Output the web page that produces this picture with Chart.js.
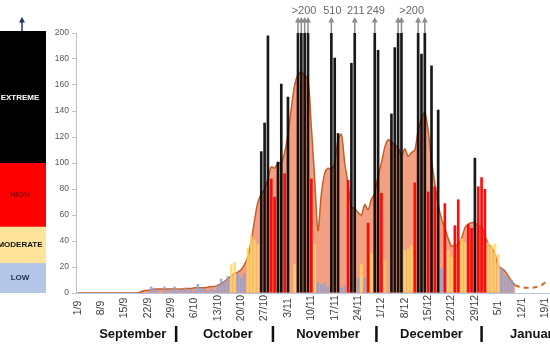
<!DOCTYPE html>
<html>
<head>
<meta charset="utf-8">
<title>Daily levels Sep - Jan</title>
<script src="https://cdn.jsdelivr.net/npm/chart.js@4.4.0/dist/chart.umd.min.js"></script>
<style>
  html, body { margin: 0; padding: 0; background: #ffffff; overflow: hidden; }
  canvas { display: block; }
</style>
</head>
<body>
<canvas id="chartNiveles" width="550" height="350"></canvas>
<script>
// ===== DATA =====

// daily values, one per day from 1/9 (rows = weeks)
const dailyValues = [
    0, 0, 0, 0, 0, 0, 0,
    0, 0, 0, 0, 0, 0, 0,
    0, 0, 0, 0, 0, 0, 0,
    0, 5, 4, 2, 0, 5, 2,
    3, 5, 3, 2, 4, 2, 3,
    2, 7, 4, 3, 2, 3, 2,
    6, 11, 9, 13, 22, 24, 15,
    12, 15, 35, 44, 41, 38, 109,
    131, 198, 88, 74, 101, 161, 92,
    151, 0, 22, 205, 205, 205, 205,   // 205 = reported only as ">200"
    88, 38, 8, 7, 8, 5, 510,
    181, 123, 4, 6, 87, 177, 211,
    12, 22, 12, 54, 31, 249, 187,
    77, 25, 0, 138, 189, 205, 205,
    33, 34, 37, 85, 205, 184, 205,
    78, 175, 82, 141, 19, 69, 33,
    28, 52, 72, 42, 39, 53, 50,
    104, 82, 89, 80, 39, 37, 38,
    30, 19, 14, 12, 10, 0, 0,
    0, 0, 0, 0, 0, 0, 0,
    0, 0
];

// smoothed trend (orange area)
const trendValues = [
    0, 0, 0, 0, 0, 0, 0,
    0, 0, 0, 0, 0, 0, 0,
    0, 0, 0, 0, 0, 1, 2,
    2, 2.5, 3, 3, 3, 3, 3,
    3, 3, 3, 3, 3.5, 3.5, 3.5,
    4, 4, 4, 4, 4.5, 5, 5,
    6, 7, 9, 11, 13, 15, 16,
    18, 22, 28, 40, 56, 70, 76,
    80, 88, 97, 96, 100, 100, 108,
    122, 142, 160, 168, 170, 167, 165,
    128, 88, 48, 76, 92, 96, 95,
    100, 118, 122, 100, 84, 66, 65,
    62, 60, 68, 64, 72, 77, 90,
    100, 112, 118, 116, 114, 112, 105,
    111, 105, 108, 110, 125, 134, 139,
    125, 102, 84, 68, 57, 50, 42,
    36, 37, 37, 42, 50, 53, 54,
    54, 52, 51, 44, 38, 35, 30,
    21, 19, 17, 13, 9, 6, null,
    null, null, null, null, null, null, null,
    null, null
];

// forecast (dashed), starting on 10/1
const forecastStart = '10/1';
const forecastValues = [6, 5, 4.5, 4, 4, 4, 4.5, 5, 6, 8, 10];

const tickLabels = ['1/9', '8/9', '15/9', '22/9', '29/9', '6/10', '13/10', '20/10', '27/10',
    '3/11', '10/11', '17/11', '24/11', '1/12', '8/12', '15/12', '22/12', '29/12', '5/1', '12/1', '19/1'];

const monthNames = ['September', 'October', 'November', 'December', 'January'];

// risk bands of the left scale
const bandNames = ['LOW', 'MODERATE', 'HIGH', 'EXTREME'];
const bandEdges = [0, 23, 51, 100, 200];

// bars above the top of the axis
const overflowText = ['>200', '510', '211', '249', '>200'];
const overflowDays = [
    ['6/11', '7/11', '8/11', '9/11'],
    ['16/11'],
    ['23/11'],
    ['29/11'],
    ['6/12', '7/12', '12/12', '14/12']
];

// ===== LABELS =====
const days = [];
for (let i = 0; i < dailyValues.length; i++) {
    const d = new Date(2012, 8, 1 + i);
    days.push(d.getDate() + '/' + (d.getMonth() + 1));
}

const bandColors = ['#b4c6e7', '#ffe49c', '#ff0000', '#000000'];
const bandTextColors = ['#1f2d50', '#111111', '#8b0000', '#ffffff'];

function colorFor(v) {
    if (v >= 100) return 'rgba(0,0,0,0.9)';
    if (v >= 50) return 'rgba(255,0,0,0.95)';
    if (v >= 20) return 'rgba(255,214,100,0.82)';
    return 'rgba(140,162,214,0.82)';
}

function flecha(ctx, x, yBase, yTip, color) {
    ctx.strokeStyle = color;
    ctx.fillStyle = color;
    ctx.lineWidth = 1.5;
    ctx.beginPath();
    ctx.moveTo(x, yBase);
    ctx.lineTo(x, yTip + 4);
    ctx.stroke();
    ctx.beginPath();
    ctx.moveTo(x, yTip);
    ctx.lineTo(x - 3, yTip + 5.5);
    ctx.lineTo(x + 3, yTip + 5.5);
    ctx.closePath();
    ctx.fill();
}

// legend bar, arrows, tick and month labels
const decorPlugin = {
    id: 'decor',
    afterDraw(chart) {
        const ctx = chart.ctx;
        const x = chart.scales.x;
        const y = chart.scales.y;
        const area = chart.chartArea;
        ctx.save();

        // left band scale
        ctx.font = 'bold 8px "Liberation Sans", Arial, sans-serif';
        ctx.textAlign = 'center';
        ctx.textBaseline = 'middle';
        for (let i = 0; i < bandNames.length; i++) {
            const y0 = y.getPixelForValue(bandEdges[i]);
            const y1 = y.getPixelForValue(bandEdges[i + 1]);
            ctx.fillStyle = bandColors[i];
            ctx.fillRect(0, y1 - 2, 46, y0 - y1 + 2);
            ctx.fillStyle = bandTextColors[i];
            ctx.fillText(bandNames[i], 20, (y0 + y1) / 2);
        }
        flecha(ctx, 22, area.top - 2, 17, '#1f3864');

        // arrows for bars above 200
        ctx.font = '11px "Liberation Sans", Arial, sans-serif';
        ctx.textBaseline = 'middle';
        overflowDays.forEach(function(grupo, g) {
            let suma = 0;
            grupo.forEach(function(dia) {
                const px = x.getPixelForValue(days.indexOf(dia));
                suma += px;
                flecha(ctx, px, area.top, area.top - 16, '#8c8c8c');
            });
            ctx.fillStyle = '#6a6a6a';
            ctx.fillText(overflowText[g], suma / grupo.length + 1, 11);
        });

        // weekly date labels, rotated and centred
        ctx.font = '10.5px "Liberation Sans", Arial, sans-serif';
        ctx.fillStyle = '#404040';
        tickLabels.forEach(function(lbl) {
            const px = x.getPixelForValue(days.indexOf(lbl));
            ctx.save();
            ctx.translate(px, 308);
            ctx.rotate(-Math.PI / 2);
            ctx.textAlign = 'center';
            ctx.fillText(lbl, 0, 0);
            ctx.restore();
        });

        // month names and separators
        const centros = [16.5, 45, 75, 106, 137];
        const separadores = [29.5, 58.5, 89.5, 121];
        ctx.font = 'bold 13px "Liberation Sans", Arial, sans-serif';
        ctx.fillStyle = '#111111';
        ctx.textAlign = 'center';
        monthNames.forEach(function(m, i) {
            ctx.fillText(m, x.getPixelForValue(centros[i]), 334);
        });
        ctx.strokeStyle = '#111111';
        ctx.lineWidth = 2.5;
        separadores.forEach(function(s) {
            const px = x.getPixelForValue(s);
            ctx.beginPath();
            ctx.moveTo(px, 326);
            ctx.lineTo(px, 342);
            ctx.stroke();
        });

        ctx.restore();
    }
};

Chart.defaults.font.family = '"Liberation Sans", Arial, sans-serif';

function inicializarGrafico() {
    const ctx = document.getElementById('chartNiveles');
    new Chart(ctx, {
        type: 'bar',
        data: {
            labels: days,
            datasets: [
                {
                    type: 'bar',
                    label: 'Daily',
                    data: dailyValues,
                    backgroundColor: dailyValues.map(colorFor),
                    barPercentage: 0.8,
                    categoryPercentage: 1,
                    order: 0
                },
                {
                    type: 'line',
                    label: 'Trend',
                    data: trendValues,
                    fill: 'origin',
                    backgroundColor: 'rgba(236,120,75,0.7)',
                    borderColor: '#c65f28',
                    borderWidth: 1.5,
                    pointRadius: 0,
                    tension: 0.3,
                    order: 1
                },
                {
                    type: 'line',
                    label: 'Forecast',
                    data: forecastValues.map(function(v, i) {
                        return { x: days[days.indexOf(forecastStart) + i], y: v };
                    }),
                    fill: false,
                    borderColor: '#d2692d',
                    borderDash: [5, 4],
                    borderWidth: 2,
                    pointRadius: 0,
                    tension: 0.4,
                    order: 1
                }
            ]
        },
        options: {
            responsive: false,
            animation: false,
            layout: {
                padding: { left: 46, top: 33, right: 0, bottom: 0 }
            },
            plugins: {
                legend: { display: false },
                tooltip: { enabled: false }
            },
            scales: {
                x: {
                    grid: { display: false },
                    border: { color: '#b4c6e7' },
                    ticks: { display: false },
                    afterFit: function(scale) { scale.height = 57; }
                },
                y: {
                    min: 0,
                    max: 200,
                    grid: { drawOnChartArea: false, tickLength: 4, color: '#bfbfbf' },
                    border: { color: '#bfbfbf' },
                    ticks: {
                        stepSize: 20,
                        padding: 3,
                        color: '#595959',
                        font: { size: 8.5 }
                    },
                    afterFit: function(scale) { scale.width = 30; }
                }
            }
        },
        plugins: [decorPlugin]
    });
}

document.addEventListener('DOMContentLoaded', inicializarGrafico);
</script>
</body>
</html>
